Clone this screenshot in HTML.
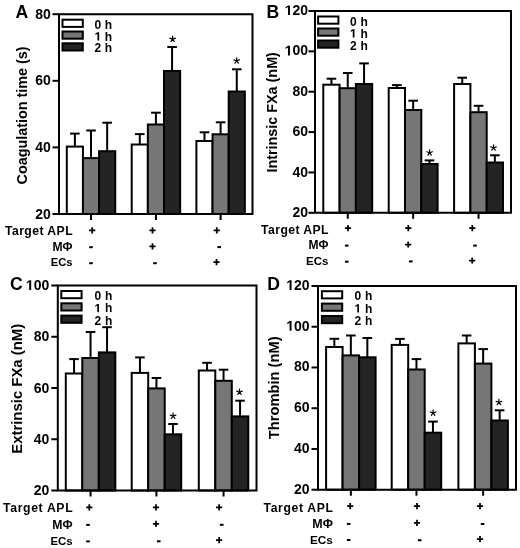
<!DOCTYPE html>
<html><head><meta charset="utf-8"><style>
html,body{margin:0;padding:0;background:#fff;}
svg{display:block;filter:grayscale(1);}
text{font-family:"Liberation Sans",sans-serif;font-weight:bold;fill:#000;}
</style></head><body>
<svg width="520" height="548" viewBox="0 0 520 548">
<g stroke="#000" stroke-width="2.0" stroke-linecap="butt" stroke-linejoin="miter">
<line x1="74.88" y1="146.6" x2="74.88" y2="133.6"/>
<line x1="70.08" y1="133.6" x2="79.67" y2="133.6"/>
<rect x="66.8" y="146.6" width="16.15" height="67.4" fill="#ffffff"/>
<line x1="91.02" y1="158.1" x2="91.02" y2="130.5"/>
<line x1="86.22" y1="130.5" x2="95.82" y2="130.5"/>
<rect x="82.95" y="158.1" width="16.15" height="55.9" fill="#767676"/>
<line x1="107.17" y1="151.2" x2="107.17" y2="122.7"/>
<line x1="102.38" y1="122.7" x2="111.97" y2="122.7"/>
<rect x="99.1" y="151.2" width="16.15" height="62.8" fill="#242424"/>
<line x1="139.77" y1="144.5" x2="139.77" y2="134.1"/>
<line x1="134.97" y1="134.1" x2="144.57" y2="134.1"/>
<rect x="131.7" y="144.5" width="16.15" height="69.5" fill="#ffffff"/>
<line x1="155.92" y1="124.5" x2="155.92" y2="112.7"/>
<line x1="151.12" y1="112.7" x2="160.72" y2="112.7"/>
<rect x="147.85" y="124.5" width="16.15" height="89.5" fill="#767676"/>
<line x1="172.07" y1="71" x2="172.07" y2="47"/>
<line x1="167.27" y1="47" x2="176.88" y2="47"/>
<rect x="164" y="71" width="16.15" height="143" fill="#242424"/>
<line x1="204.47" y1="141" x2="204.47" y2="132.3"/>
<line x1="199.67" y1="132.3" x2="209.28" y2="132.3"/>
<rect x="196.4" y="141" width="16.15" height="73" fill="#ffffff"/>
<line x1="220.62" y1="134.3" x2="220.62" y2="122.3"/>
<line x1="215.82" y1="122.3" x2="225.43" y2="122.3"/>
<rect x="212.55" y="134.3" width="16.15" height="79.7" fill="#767676"/>
<line x1="236.77" y1="91.5" x2="236.77" y2="69.3"/>
<line x1="231.97" y1="69.3" x2="241.57" y2="69.3"/>
<rect x="228.7" y="91.5" width="16.15" height="122.5" fill="#242424"/>
<path d="M59 14.2H252.5V214H59Z" fill="none"/>
<line x1="52.5" y1="214" x2="59" y2="214"/>
<text stroke="none" x="35.33" y="218.5" font-size="14">20</text>
<line x1="52.5" y1="147.4" x2="59" y2="147.4"/>
<text stroke="none" x="35.33" y="151.9" font-size="14">40</text>
<line x1="52.5" y1="80.8" x2="59" y2="80.8"/>
<text stroke="none" x="35.33" y="85.3" font-size="14">60</text>
<line x1="52.5" y1="14.2" x2="59" y2="14.2"/>
<text stroke="none" x="35.33" y="18.7" font-size="14">80</text>
<line x1="91.02" y1="214" x2="91.02" y2="220"/>
<line x1="155.92" y1="214" x2="155.92" y2="220"/>
<line x1="220.62" y1="214" x2="220.62" y2="220"/>
<rect x="62.5" y="19.7" width="20.3" height="7.2" fill="#ffffff"/>
<text stroke="none" x="94.6" y="28.7" font-size="12">0</text>
<text stroke="none" x="104.7" y="28.7" font-size="12">h</text>
<rect x="62.5" y="31.5" width="20.3" height="7.2" fill="#767676"/>
<path stroke="none" fill="#000" transform="translate(94.6 40.5) scale(0.005859 -0.005859)" d="M490 0L490 1170L140 959L140 1180L505 1409L780 1409L780 0Z"/>
<text stroke="none" x="104.7" y="40.5" font-size="12">h</text>
<rect x="62.5" y="43.3" width="20.3" height="7.2" fill="#242424"/>
<text stroke="none" x="94.6" y="52.3" font-size="12">2</text>
<text stroke="none" x="104.7" y="52.3" font-size="12">h</text>
<path d="M172.6 39.1L172.6 36.15M172.6 39.1L175.41 38.19M172.6 39.1L169.79 38.19M172.6 39.1L174.33 41.49M172.6 39.1L170.87 41.49" stroke-width="1.2" stroke-linecap="round"/>
<path d="M236.7 60.8L236.7 57.85M236.7 60.8L239.51 59.89M236.7 60.8L233.89 59.89M236.7 60.8L238.43 63.19M236.7 60.8L234.97 63.19" stroke-width="1.2" stroke-linecap="round"/>
<text stroke="none" x="15.5" y="18" font-size="17.6">A</text>
<text stroke="none" transform="translate(26.7 115.4) rotate(-90)" text-anchor="middle" font-size="14.2" textLength="138.1" lengthAdjust="spacingAndGlyphs">Coagulation time (s)</text>
<text stroke="none" x="72.6" y="234.5" text-anchor="end" font-size="12.2" textLength="67.6" lengthAdjust="spacing">Target APL</text>
<text stroke="none" x="72.6" y="250.5" text-anchor="end" font-size="12" textLength="20.1" lengthAdjust="spacingAndGlyphs">M&#934;</text>
<text stroke="none" x="72.6" y="265.9" text-anchor="end" font-size="11.6" textLength="21.9" lengthAdjust="spacingAndGlyphs">ECs</text>
<path d="M89.1 230.3h6.2M92.2 227.2v6.2" stroke-width="1.75"/>
<path d="M89.2 247.2h3.6" />
<path d="M89.2 263.2h3.6" />
<path d="M149.4 230.3h6.2M152.5 227.2v6.2" stroke-width="1.75"/>
<path d="M149.4 246.4h6.2M152.5 243.3v6.2" stroke-width="1.75"/>
<path d="M153.2 263.2h3.6" />
<path d="M213.7 230.3h6.2M216.8 227.2v6.2" stroke-width="1.75"/>
<path d="M217.4 247.1h3.6" />
<path d="M213.4 262.1h6.2M216.5 259v6.2" stroke-width="1.75"/>
<line x1="331.45" y1="84.7" x2="331.45" y2="78.7"/>
<line x1="326.65" y1="78.7" x2="336.25" y2="78.7"/>
<rect x="323.3" y="84.7" width="16.3" height="128.1" fill="#ffffff"/>
<line x1="347.75" y1="88.2" x2="347.75" y2="73"/>
<line x1="342.95" y1="73" x2="352.55" y2="73"/>
<rect x="339.6" y="88.2" width="16.3" height="124.6" fill="#767676"/>
<line x1="364.05" y1="84" x2="364.05" y2="63.4"/>
<line x1="359.25" y1="63.4" x2="368.85" y2="63.4"/>
<rect x="355.9" y="84" width="16.3" height="128.8" fill="#242424"/>
<line x1="396.85" y1="88" x2="396.85" y2="85.1"/>
<line x1="392.05" y1="85.1" x2="401.65" y2="85.1"/>
<rect x="388.7" y="88" width="16.3" height="124.8" fill="#ffffff"/>
<line x1="413.15" y1="110" x2="413.15" y2="100.7"/>
<line x1="408.35" y1="100.7" x2="417.95" y2="100.7"/>
<rect x="405" y="110" width="16.3" height="102.8" fill="#767676"/>
<line x1="429.45" y1="164" x2="429.45" y2="160.4"/>
<line x1="424.65" y1="160.4" x2="434.25" y2="160.4"/>
<rect x="421.3" y="164" width="16.3" height="48.8" fill="#242424"/>
<line x1="462.25" y1="84" x2="462.25" y2="77.7"/>
<line x1="457.45" y1="77.7" x2="467.05" y2="77.7"/>
<rect x="454.1" y="84" width="16.3" height="128.8" fill="#ffffff"/>
<line x1="478.55" y1="112.2" x2="478.55" y2="105.8"/>
<line x1="473.75" y1="105.8" x2="483.35" y2="105.8"/>
<rect x="470.4" y="112.2" width="16.3" height="100.6" fill="#767676"/>
<line x1="494.85" y1="162.5" x2="494.85" y2="155.3"/>
<line x1="490.05" y1="155.3" x2="499.65" y2="155.3"/>
<rect x="486.7" y="162.5" width="16.3" height="50.3" fill="#242424"/>
<path d="M315 11H511V212.8H315Z" fill="none"/>
<line x1="308.5" y1="212.8" x2="315" y2="212.8"/>
<text stroke="none" x="292.43" y="216.9" font-size="14">20</text>
<line x1="308.5" y1="172.44" x2="315" y2="172.44"/>
<text stroke="none" x="292.43" y="176.54" font-size="14">40</text>
<line x1="308.5" y1="132.08" x2="315" y2="132.08"/>
<text stroke="none" x="292.43" y="136.18" font-size="14">60</text>
<line x1="308.5" y1="91.72" x2="315" y2="91.72"/>
<text stroke="none" x="292.43" y="95.82" font-size="14">80</text>
<line x1="308.5" y1="51.36" x2="315" y2="51.36"/>
<path stroke="none" fill="#000" transform="translate(284.64 55.46) scale(0.006836 -0.006836)" d="M490 0L490 1170L140 959L140 1180L505 1409L780 1409L780 0Z"/>
<text stroke="none" x="292.43" y="55.46" font-size="14">00</text>
<line x1="308.5" y1="11" x2="315" y2="11"/>
<path stroke="none" fill="#000" transform="translate(284.64 15.1) scale(0.006836 -0.006836)" d="M490 0L490 1170L140 959L140 1180L505 1409L780 1409L780 0Z"/>
<text stroke="none" x="292.43" y="15.1" font-size="14">20</text>
<line x1="347.75" y1="212.8" x2="347.75" y2="218.8"/>
<line x1="413.15" y1="212.8" x2="413.15" y2="218.8"/>
<line x1="478.55" y1="212.8" x2="478.55" y2="218.8"/>
<rect x="318.1" y="16.5" width="20.3" height="7.2" fill="#ffffff"/>
<text stroke="none" x="349.9" y="25.5" font-size="12">0</text>
<text stroke="none" x="360.6" y="25.5" font-size="12">h</text>
<rect x="318.1" y="28.5" width="20.3" height="7.2" fill="#767676"/>
<path stroke="none" fill="#000" transform="translate(349.9 37.5) scale(0.005859 -0.005859)" d="M490 0L490 1170L140 959L140 1180L505 1409L780 1409L780 0Z"/>
<text stroke="none" x="360.6" y="37.5" font-size="12">h</text>
<rect x="318.1" y="40.5" width="20.3" height="7.2" fill="#242424"/>
<text stroke="none" x="349.9" y="49.5" font-size="12">2</text>
<text stroke="none" x="360.6" y="49.5" font-size="12">h</text>
<path d="M429.6 152.7L429.6 149.75M429.6 152.7L432.41 151.79M429.6 152.7L426.79 151.79M429.6 152.7L431.33 155.09M429.6 152.7L427.87 155.09" stroke-width="1.2" stroke-linecap="round"/>
<path d="M493.5 147.8L493.5 144.85M493.5 147.8L496.31 146.89M493.5 147.8L490.69 146.89M493.5 147.8L495.23 150.19M493.5 147.8L491.77 150.19" stroke-width="1.2" stroke-linecap="round"/>
<text stroke="none" x="266.6" y="17.9" font-size="17.6">B</text>
<text stroke="none" transform="translate(276.6 112.35) rotate(-90)" text-anchor="middle" font-size="14.1" textLength="120.5" lengthAdjust="spacingAndGlyphs">Intrinsic FXa (nM)</text>
<text stroke="none" x="328.5" y="233.6" text-anchor="end" font-size="12.2" textLength="67.4" lengthAdjust="spacing">Target APL</text>
<text stroke="none" x="328.5" y="249.1" text-anchor="end" font-size="12" textLength="20" lengthAdjust="spacingAndGlyphs">M&#934;</text>
<text stroke="none" x="328.5" y="265.4" text-anchor="end" font-size="11.6" textLength="22.4" lengthAdjust="spacingAndGlyphs">ECs</text>
<path d="M344.9 228.1h6.2M348 225v6.2" stroke-width="1.75"/>
<path d="M344.9 245.6h3.6" />
<path d="M345 261.7h3.6" />
<path d="M405.2 228.1h6.2M408.3 225v6.2" stroke-width="1.75"/>
<path d="M405.1 244.5h6.2M408.2 241.4v6.2" stroke-width="1.75"/>
<path d="M409 261.4h3.6" />
<path d="M469.2 228.1h6.2M472.3 225v6.2" stroke-width="1.75"/>
<path d="M473.2 245.6h3.6" />
<path d="M469.1 260.5h6.2M472.2 257.4v6.2" stroke-width="1.75"/>
<line x1="74.05" y1="373.5" x2="74.05" y2="359.1"/>
<line x1="69.25" y1="359.1" x2="78.85" y2="359.1"/>
<rect x="65.8" y="373.5" width="16.5" height="117" fill="#ffffff"/>
<line x1="90.55" y1="358" x2="90.55" y2="332"/>
<line x1="85.75" y1="332" x2="95.35" y2="332"/>
<rect x="82.3" y="358" width="16.5" height="132.5" fill="#767676"/>
<line x1="107.05" y1="352.4" x2="107.05" y2="327.2"/>
<line x1="102.25" y1="327.2" x2="111.85" y2="327.2"/>
<rect x="98.8" y="352.4" width="16.5" height="138.1" fill="#242424"/>
<line x1="139.95" y1="372.9" x2="139.95" y2="357.4"/>
<line x1="135.15" y1="357.4" x2="144.75" y2="357.4"/>
<rect x="131.7" y="372.9" width="16.5" height="117.6" fill="#ffffff"/>
<line x1="156.45" y1="388.4" x2="156.45" y2="378"/>
<line x1="151.65" y1="378" x2="161.25" y2="378"/>
<rect x="148.2" y="388.4" width="16.5" height="102.1" fill="#767676"/>
<line x1="172.95" y1="434.3" x2="172.95" y2="424"/>
<line x1="168.15" y1="424" x2="177.75" y2="424"/>
<rect x="164.7" y="434.3" width="16.5" height="56.2" fill="#242424"/>
<line x1="207.05" y1="370.5" x2="207.05" y2="362.8"/>
<line x1="202.25" y1="362.8" x2="211.85" y2="362.8"/>
<rect x="198.8" y="370.5" width="16.5" height="120" fill="#ffffff"/>
<line x1="223.55" y1="380.8" x2="223.55" y2="369.7"/>
<line x1="218.75" y1="369.7" x2="228.35" y2="369.7"/>
<rect x="215.3" y="380.8" width="16.5" height="109.7" fill="#767676"/>
<line x1="240.05" y1="416.4" x2="240.05" y2="400.7"/>
<line x1="235.25" y1="400.7" x2="244.85" y2="400.7"/>
<rect x="231.8" y="416.4" width="16.5" height="74.1" fill="#242424"/>
<path d="M57.8 285.5H256.5V490.5H57.8Z" fill="none"/>
<line x1="51.3" y1="490.5" x2="57.8" y2="490.5"/>
<text stroke="none" x="33.63" y="495" font-size="14">20</text>
<line x1="51.3" y1="439.25" x2="57.8" y2="439.25"/>
<text stroke="none" x="33.63" y="443.75" font-size="14">40</text>
<line x1="51.3" y1="388" x2="57.8" y2="388"/>
<text stroke="none" x="33.63" y="392.5" font-size="14">60</text>
<line x1="51.3" y1="336.75" x2="57.8" y2="336.75"/>
<text stroke="none" x="33.63" y="341.25" font-size="14">80</text>
<line x1="51.3" y1="285.5" x2="57.8" y2="285.5"/>
<path stroke="none" fill="#000" transform="translate(25.84 290) scale(0.006836 -0.006836)" d="M490 0L490 1170L140 959L140 1180L505 1409L780 1409L780 0Z"/>
<text stroke="none" x="33.63" y="290" font-size="14">00</text>
<line x1="90.55" y1="490.5" x2="90.55" y2="496.5"/>
<line x1="156.45" y1="490.5" x2="156.45" y2="496.5"/>
<line x1="223.55" y1="490.5" x2="223.55" y2="496.5"/>
<rect x="61.3" y="291" width="20.3" height="7.2" fill="#ffffff"/>
<text stroke="none" x="94.4" y="300" font-size="12">0</text>
<text stroke="none" x="104.9" y="300" font-size="12">h</text>
<rect x="61.3" y="303.3" width="20.3" height="7.2" fill="#767676"/>
<path stroke="none" fill="#000" transform="translate(94.4 312.3) scale(0.005859 -0.005859)" d="M490 0L490 1170L140 959L140 1180L505 1409L780 1409L780 0Z"/>
<text stroke="none" x="104.9" y="312.3" font-size="12">h</text>
<rect x="61.3" y="315.6" width="20.3" height="7.2" fill="#242424"/>
<text stroke="none" x="94.4" y="324.6" font-size="12">2</text>
<text stroke="none" x="104.9" y="324.6" font-size="12">h</text>
<path d="M173.1 416L173.1 413.05M173.1 416L175.91 415.09M173.1 416L170.29 415.09M173.1 416L174.83 418.39M173.1 416L171.37 418.39" stroke-width="1.2" stroke-linecap="round"/>
<path d="M239.5 392.1L239.5 389.15M239.5 392.1L242.31 391.19M239.5 392.1L236.69 391.19M239.5 392.1L241.23 394.49M239.5 392.1L237.77 394.49" stroke-width="1.2" stroke-linecap="round"/>
<text stroke="none" x="10.1" y="290" font-size="17.6">C</text>
<text stroke="none" transform="translate(21.7 388.8) rotate(-90)" text-anchor="middle" font-size="14.7" textLength="129.9" lengthAdjust="spacingAndGlyphs">Extrinsic FXa (nM)</text>
<text stroke="none" x="72.6" y="512.3" text-anchor="end" font-size="12.2" textLength="69.6" lengthAdjust="spacing">Target APL</text>
<text stroke="none" x="72.6" y="528.8" text-anchor="end" font-size="12" textLength="20.3" lengthAdjust="spacingAndGlyphs">M&#934;</text>
<text stroke="none" x="72.6" y="544.9" text-anchor="end" font-size="11.6" textLength="22.2" lengthAdjust="spacingAndGlyphs">ECs</text>
<path d="M86.2 507.3h6.2M89.3 504.2v6.2" stroke-width="1.75"/>
<path d="M86.2 524.9h3.6" />
<path d="M86.2 541.4h3.6" />
<path d="M152.9 507.3h6.2M156 504.2v6.2" stroke-width="1.75"/>
<path d="M152.9 523.8h6.2M156 520.7v6.2" stroke-width="1.75"/>
<path d="M156.9 541.3h3.6" />
<path d="M216 507.3h6.2M219.1 504.2v6.2" stroke-width="1.75"/>
<path d="M219.9 524.8h3.6" />
<path d="M216 540.1h6.2M219.1 537v6.2" stroke-width="1.75"/>
<line x1="334.35" y1="347" x2="334.35" y2="338.8"/>
<line x1="329.55" y1="338.8" x2="339.15" y2="338.8"/>
<rect x="326.1" y="347" width="16.5" height="142.7" fill="#ffffff"/>
<line x1="350.85" y1="355.4" x2="350.85" y2="335.5"/>
<line x1="346.05" y1="335.5" x2="355.65" y2="335.5"/>
<rect x="342.6" y="355.4" width="16.5" height="134.3" fill="#767676"/>
<line x1="367.35" y1="357.3" x2="367.35" y2="338"/>
<line x1="362.55" y1="338" x2="372.15" y2="338"/>
<rect x="359.1" y="357.3" width="16.5" height="132.4" fill="#242424"/>
<line x1="399.95" y1="344.9" x2="399.95" y2="338.9"/>
<line x1="395.15" y1="338.9" x2="404.75" y2="338.9"/>
<rect x="391.7" y="344.9" width="16.5" height="144.8" fill="#ffffff"/>
<line x1="416.45" y1="369.5" x2="416.45" y2="359.1"/>
<line x1="411.65" y1="359.1" x2="421.25" y2="359.1"/>
<rect x="408.2" y="369.5" width="16.5" height="120.2" fill="#767676"/>
<line x1="432.95" y1="432.7" x2="432.95" y2="421.6"/>
<line x1="428.15" y1="421.6" x2="437.75" y2="421.6"/>
<rect x="424.7" y="432.7" width="16.5" height="57" fill="#242424"/>
<line x1="466.65" y1="343.4" x2="466.65" y2="335.5"/>
<line x1="461.85" y1="335.5" x2="471.45" y2="335.5"/>
<rect x="458.4" y="343.4" width="16.5" height="146.3" fill="#ffffff"/>
<line x1="483.15" y1="363.6" x2="483.15" y2="349.1"/>
<line x1="478.35" y1="349.1" x2="487.95" y2="349.1"/>
<rect x="474.9" y="363.6" width="16.5" height="126.1" fill="#767676"/>
<line x1="499.65" y1="420.5" x2="499.65" y2="410.3"/>
<line x1="494.85" y1="410.3" x2="504.45" y2="410.3"/>
<rect x="491.4" y="420.5" width="16.5" height="69.2" fill="#242424"/>
<path d="M318 286H516V489.7H318Z" fill="none"/>
<line x1="311.5" y1="489.7" x2="318" y2="489.7"/>
<text stroke="none" x="294.03" y="493.7" font-size="14">20</text>
<line x1="311.5" y1="448.96" x2="318" y2="448.96"/>
<text stroke="none" x="294.03" y="452.96" font-size="14">40</text>
<line x1="311.5" y1="408.22" x2="318" y2="408.22"/>
<text stroke="none" x="294.03" y="412.22" font-size="14">60</text>
<line x1="311.5" y1="367.48" x2="318" y2="367.48"/>
<text stroke="none" x="294.03" y="371.48" font-size="14">80</text>
<line x1="311.5" y1="326.74" x2="318" y2="326.74"/>
<path stroke="none" fill="#000" transform="translate(286.24 330.74) scale(0.006836 -0.006836)" d="M490 0L490 1170L140 959L140 1180L505 1409L780 1409L780 0Z"/>
<text stroke="none" x="294.03" y="330.74" font-size="14">00</text>
<line x1="311.5" y1="286" x2="318" y2="286"/>
<path stroke="none" fill="#000" transform="translate(286.24 290) scale(0.006836 -0.006836)" d="M490 0L490 1170L140 959L140 1180L505 1409L780 1409L780 0Z"/>
<text stroke="none" x="294.03" y="290" font-size="14">20</text>
<line x1="350.85" y1="489.7" x2="350.85" y2="495.7"/>
<line x1="416.45" y1="489.7" x2="416.45" y2="495.7"/>
<line x1="483.15" y1="489.7" x2="483.15" y2="495.7"/>
<rect x="321.9" y="291.2" width="20.3" height="7.2" fill="#ffffff"/>
<text stroke="none" x="354.4" y="300.2" font-size="12">0</text>
<text stroke="none" x="365.1" y="300.2" font-size="12">h</text>
<rect x="321.9" y="303.6" width="20.3" height="7.2" fill="#767676"/>
<path stroke="none" fill="#000" transform="translate(354.4 312.6) scale(0.005859 -0.005859)" d="M490 0L490 1170L140 959L140 1180L505 1409L780 1409L780 0Z"/>
<text stroke="none" x="365.1" y="312.6" font-size="12">h</text>
<rect x="321.9" y="316" width="20.3" height="7.2" fill="#242424"/>
<text stroke="none" x="354.4" y="325" font-size="12">2</text>
<text stroke="none" x="365.1" y="325" font-size="12">h</text>
<path d="M433.1 412.9L433.1 409.95M433.1 412.9L435.91 411.99M433.1 412.9L430.29 411.99M433.1 412.9L434.83 415.29M433.1 412.9L431.37 415.29" stroke-width="1.2" stroke-linecap="round"/>
<path d="M498.9 402.3L498.9 399.35M498.9 402.3L501.71 401.39M498.9 402.3L496.09 401.39M498.9 402.3L500.63 404.69M498.9 402.3L497.17 404.69" stroke-width="1.2" stroke-linecap="round"/>
<text stroke="none" x="267.2" y="289.8" font-size="17.6">D</text>
<text stroke="none" transform="translate(279.3 387.8) rotate(-90)" text-anchor="middle" font-size="14.4" textLength="102.7" lengthAdjust="spacingAndGlyphs">Thrombin (nM)</text>
<text stroke="none" x="332.9" y="511.5" text-anchor="end" font-size="12.2" textLength="69.4" lengthAdjust="spacing">Target APL</text>
<text stroke="none" x="332.9" y="527.5" text-anchor="end" font-size="12" textLength="20.6" lengthAdjust="spacingAndGlyphs">M&#934;</text>
<text stroke="none" x="332.9" y="543.9" text-anchor="end" font-size="11.6" textLength="22.9" lengthAdjust="spacingAndGlyphs">ECs</text>
<path d="M347.1 506.2h6.2M350.2 503.1v6.2" stroke-width="1.75"/>
<path d="M346.9 523.9h3.6" />
<path d="M346.9 540h3.6" />
<path d="M413.9 506.2h6.2M417 503.1v6.2" stroke-width="1.75"/>
<path d="M413.9 522.8h6.2M417 519.7v6.2" stroke-width="1.75"/>
<path d="M417.9 540.2h3.6" />
<path d="M476.9 506.2h6.2M480 503.1v6.2" stroke-width="1.75"/>
<path d="M480.8 524h3.6" />
<path d="M476.9 539.1h6.2M480 536v6.2" stroke-width="1.75"/>
</g>
</svg>
</body></html>
